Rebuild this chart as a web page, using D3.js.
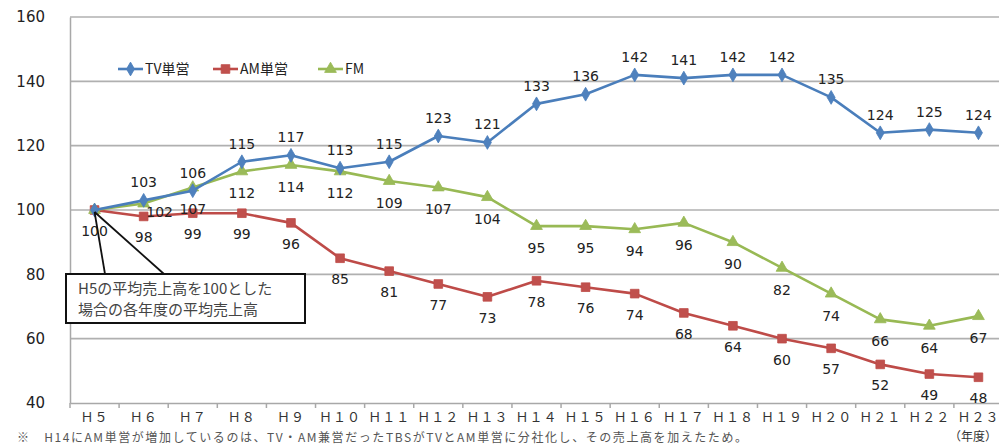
<!DOCTYPE html>
<html><head><meta charset="utf-8">
<script src="https://cdn.jsdelivr.net/npm/d3@7"></script>
<style>
html,body{margin:0;padding:0;background:#fff;}
svg{display:block;}
</style></head>
<body>
<svg id="c" width="999" height="444"></svg>
<script>
const categories = ["Ｈ５","Ｈ６","Ｈ７","Ｈ８","Ｈ９","Ｈ１０","Ｈ１１","Ｈ１２","Ｈ１３","Ｈ１４","Ｈ１５","Ｈ１６","Ｈ１７","Ｈ１８","Ｈ１９","Ｈ２０","Ｈ２１","Ｈ２２","Ｈ２３"];
const tvValues = [100,103,106,115,117,113,115,123,121,133,136,142,141,142,142,135,124,125,124];
const amValues = [100,98,99,99,96,85,81,77,73,78,76,74,68,64,60,57,52,49,48];
const fmValues = [100,102,107,112,114,112,109,107,104,95,95,94,96,90,82,74,66,64,67];
const yTicks = [40,60,80,100,120,140,160];
const seriesNames = ["TV単営","AM単営","FM"];
const annotationLines = ["H5の平均売上高を100とした","場合の各年度の平均売上高"];
const noteText = "※　H14にAM単営が増加しているのは、TV・AM兼営だったTBSがTVとAM単営に分社化し、その売上高を加えたため。";
const unitText = "（年度）";

(function(){
const svg = d3.select("#c");
const W = 999;
const pLeft = 70, pRight = 1003, pTop = 17, pBottom = 403;
const x = d3.scaleBand().domain(categories).range([pLeft, pRight]).padding(0);
const cx = c => x(c) + x.bandwidth()/2;
const y = d3.scaleLinear().domain([40,160]).range([pBottom, pTop]);

const sansFont = "'DejaVu Sans','Noto Sans',sans-serif";
const cjkFont = "'Noto Sans CJK JP',sans-serif";

svg.append("g").selectAll("line").data(yTicks.filter(t=>t>40)).join("line")
  .attr("x1", pLeft).attr("x2", W).attr("y1", d=>y(d)).attr("y2", d=>y(d))
  .attr("stroke", "#b0b0b0").attr("stroke-width", 1.6);

const yAxis = svg.append("g").attr("transform", `translate(${pLeft},0)`)
  .call(d3.axisLeft(y).tickValues(yTicks).tickSize(0).tickPadding(25));
yAxis.select(".domain").attr("stroke", "#a8a8a8").attr("stroke-width", 1.5);
yAxis.selectAll("text").attr("font-family", sansFont).attr("font-size", 15).attr("fill", "#222");

const xAxis = svg.append("g").attr("transform", `translate(0,${pBottom})`)
  .call(d3.axisBottom(x).tickSize(0).tickPadding(10));
xAxis.select(".domain").attr("stroke", "#a8a8a8").attr("stroke-width", 1.5);
xAxis.selectAll("text").attr("font-family", cjkFont).attr("font-size", 13).attr("fill", "#333").attr("letter-spacing", "1px");
svg.append("g").selectAll("line").data(categories).join("line")
  .attr("x1", d=>x(d)).attr("x2", d=>x(d)).attr("y1", pBottom).attr("y2", pBottom+5)
  .attr("stroke", "#a8a8a8").attr("stroke-width", 1.5);

const series = [
  {name: seriesNames[0], values: tvValues, color: "#4a7ebb", fill:"#4f81bd", shape: d3.symbolDiamond, size: 55},
  {name: seriesNames[1], values: amValues, color: "#be4b48", fill:"#c0504d", shape: d3.symbolSquare, size: 75},
  {name: seriesNames[2], values: fmValues, color: "#98b954", fill:"#9bbb59", shape: d3.symbolTriangle, size: 60}
];
const line = d3.line().x((d,i)=>cx(categories[i])).y(d=>y(d));

[series[1], series[2], series[0]].forEach(s => {
  svg.append("path").datum(s.values).attr("d", line)
    .attr("fill","none").attr("stroke", s.color).attr("stroke-width", 2.6).attr("stroke-linejoin","round");
  svg.append("g").selectAll("path").data(s.values).join("path")
    .attr("d", d3.symbol().type(s.shape).size(s.size))
    .attr("transform", (d,i)=>`translate(${cx(categories[i])},${y(d)})`)
    .attr("fill", s.fill).attr("stroke", s.color).attr("stroke-width", 0.8);
});

const labelG = svg.append("g").attr("font-family", sansFont).attr("font-size", 14).attr("fill", "#222").attr("text-anchor","middle");
tvValues.forEach((v,i) => {
  if (i === 0) return;
  labelG.append("text").attr("x", cx(categories[i])).attr("y", y(v) - 13).text(v);
});
amValues.forEach((v,i) => {
  if (i === 0) return;
  labelG.append("text").attr("x", cx(categories[i])).attr("y", y(v) + 26).text(v);
});
fmValues.forEach((v,i) => {
  if (i === 0) {
    labelG.append("text").attr("x", cx(categories[i])).attr("y", y(v) + 26).text(v);
    return;
  }
  if (i === 1) {
    labelG.append("text").attr("x", cx(categories[i]) + 16).attr("y", y(v) + 13).text(v);
    return;
  }
  labelG.append("text").attr("x", cx(categories[i])).attr("y", y(v) + 27).text(v);
});

const leg = svg.append("g");
const legX = [118, 213, 318];
series.forEach((s,k) => {
  const lx = legX[k], ly = 69;
  leg.append("line").attr("x1", lx).attr("x2", lx+25).attr("y1", ly).attr("y2", ly)
    .attr("stroke", s.color).attr("stroke-width", 2.6);
  leg.append("path").attr("d", d3.symbol().type(s.shape).size(s.size))
    .attr("transform", `translate(${lx+12.5},${ly})`).attr("fill", s.fill).attr("stroke", s.color).attr("stroke-width",0.8);
  leg.append("text").attr("x", lx+27).attr("y", ly+5).text(s.name)
    .attr("font-family", cjkFont).attr("font-size", 14).attr("fill", "#222");
});

const ax0 = cx(categories[0]), ay0 = y(100) + 2;
const boxX = 66, boxY = 274, boxW = 239, boxH = 49;
svg.append("line").attr("x1", ax0).attr("y1", ay0).attr("x2", 105).attr("y2", boxY).attr("stroke","#111").attr("stroke-width",1.8);
svg.append("line").attr("x1", ax0).attr("y1", ay0).attr("x2", 164).attr("y2", boxY).attr("stroke","#111").attr("stroke-width",1.8);
svg.append("rect").attr("x", boxX).attr("y", boxY).attr("width", boxW).attr("height", boxH)
  .attr("fill","#fff").attr("stroke","#111").attr("stroke-width",2);
annotationLines.forEach((t,i) => {
  svg.append("text").attr("x", boxX+12).attr("y", boxY + 20 + i*21).text(t)
    .attr("font-family", cjkFont).attr("font-size", 15).attr("fill", "#444");
});

svg.append("text").attr("x", 17).attr("y", 442).text(noteText)
  .attr("font-family", cjkFont).attr("font-size", 12).attr("fill", "#555")
  .attr("textLength", 730).attr("lengthAdjust", "spacing");
svg.append("text").attr("x", 997).attr("y", 441).attr("text-anchor","end").text(unitText)
  .attr("font-family", cjkFont).attr("font-size", 12).attr("fill", "#333");
})();
</script>
</body></html>
